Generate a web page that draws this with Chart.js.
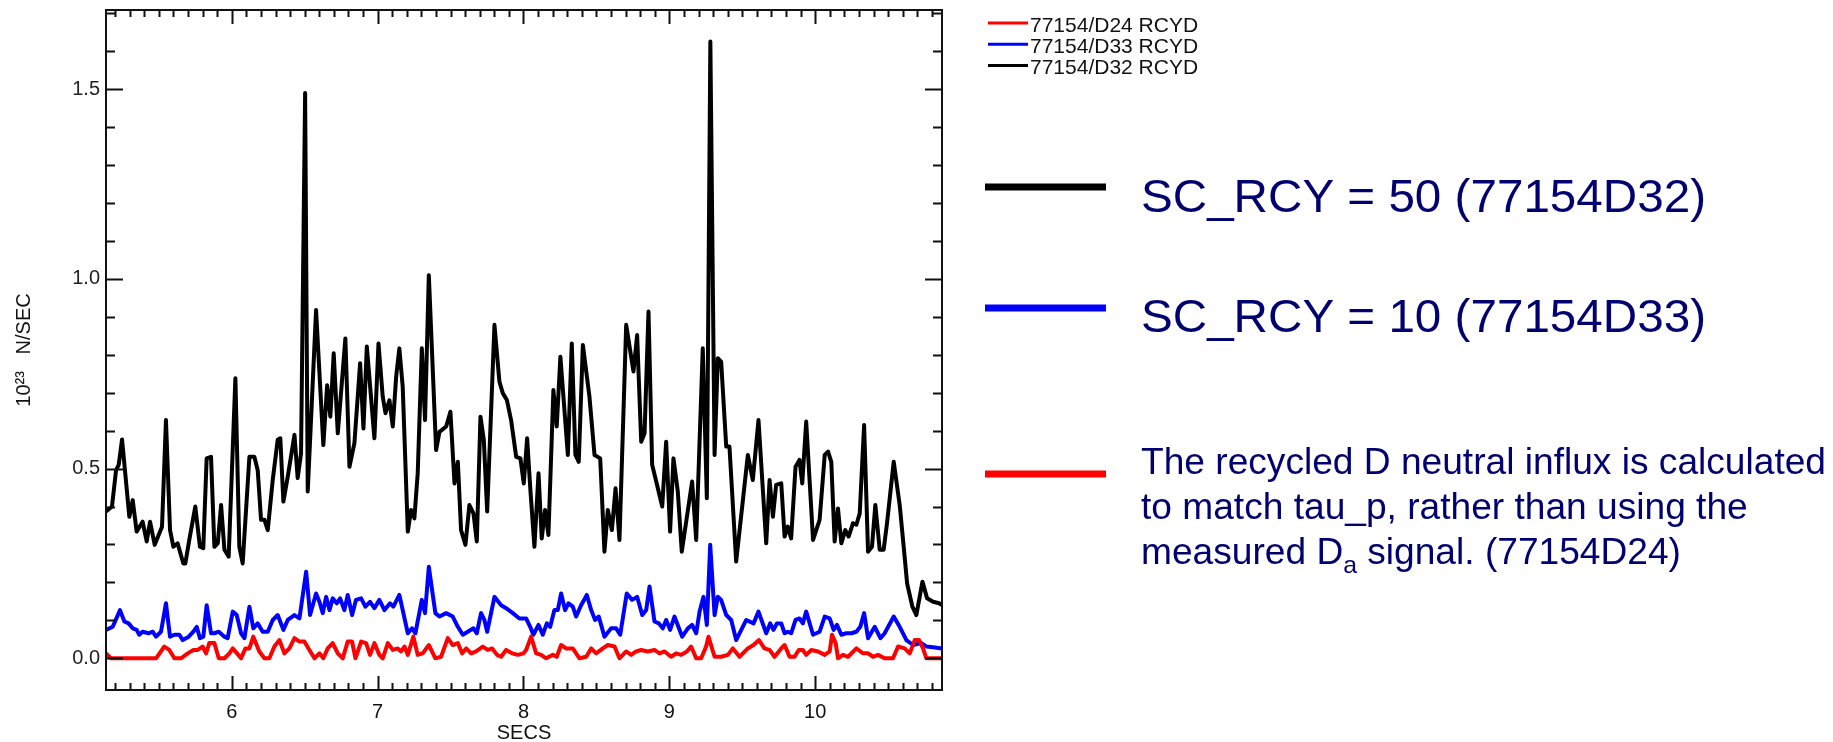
<!DOCTYPE html>
<html lang="en">
<head>
  <meta charset="UTF-8">
  <title>RCYD influx</title>
  <script src="https://cdn.jsdelivr.net/npm/chart.js"></script>
  <style>
    html, body { margin: 0; padding: 0; background: #fff; }
    #wrap { width: 1833px; height: 742px; }
  </style>
</head>
<body>
<div id="wrap"><canvas id="rcyChart" width="1833" height="742"></canvas></div>

<script>
  // time (s) and influx (10^23 N/SEC) at each vertex
  var d32Time = [5.138, 5.179, 5.207, 5.225, 5.248, 5.298, 5.321, 5.348, 5.389, 5.417, 5.44, 5.472, 5.522, 5.549, 5.577, 5.6, 5.629, 5.668, 5.682, 5.709,
    5.75, 5.782, 5.805, 5.828, 5.858, 5.881, 5.904, 5.927, 5.95, 5.979, 6.025, 6.052, 6.075, 6.121, 6.155, 6.178, 6.201, 6.224, 6.247, 6.281,
    6.315, 6.333, 6.354, 6.384, 6.43, 6.452, 6.475, 6.503, 6.521, 6.578, 6.628, 6.654, 6.676, 6.699, 6.727, 6.779, 6.807, 6.841, 6.88, 6.903,
    6.926, 6.978, 7.006, 7.035, 7.054, 7.081, 7.104, 7.127, 7.149, 7.172, 7.207, 7.229, 7.252, 7.275, 7.303, 7.325, 7.351, 7.401, 7.424, 7.47,
    7.499, 7.527, 7.55, 7.572, 7.602, 7.629, 7.657, 7.68, 7.705, 7.728, 7.751, 7.801, 7.835, 7.858, 7.886, 7.915, 7.95, 7.979, 8.002, 8.025,
    8.048, 8.075, 8.103, 8.125, 8.148, 8.171, 8.205, 8.228, 8.253, 8.304, 8.331, 8.356, 8.379, 8.407, 8.452, 8.487, 8.526, 8.555, 8.578, 8.606,
    8.631, 8.658, 8.704, 8.754, 8.779, 8.807, 8.83, 8.857, 8.882, 8.91, 8.951, 8.978, 9.005, 9.028, 9.058, 9.085, 9.156, 9.184, 9.229, 9.257,
    9.281, 9.31, 9.332, 9.355, 9.39, 9.412, 9.458, 9.538, 9.572, 9.611, 9.664, 9.687, 9.71, 9.732, 9.767, 9.79, 9.812, 9.835, 9.865, 9.892,
    9.911, 9.938, 9.985, 10.03, 10.065, 10.088, 10.11, 10.133, 10.156, 10.179, 10.206, 10.229, 10.259, 10.282, 10.305, 10.335, 10.362, 10.389, 10.412, 10.442,
    10.469, 10.492, 10.538, 10.579, 10.602, 10.63, 10.666, 10.693, 10.735, 10.767, 10.808, 10.849, 10.869];
  var d32Val = [0.387, 0.40, 0.496, 0.51, 0.577, 0.373, 0.417, 0.334, 0.36, 0.308, 0.36, 0.299, 0.347, 0.628, 0.338, 0.294, 0.303, 0.25, 0.25, 0.312,
    0.40, 0.294, 0.29, 0.527, 0.531, 0.294, 0.303, 0.404, 0.286, 0.268, 0.738, 0.294, 0.25, 0.531, 0.531, 0.496, 0.365, 0.365, 0.338, 0.47,
    0.576, 0.58, 0.413, 0.479, 0.589, 0.475, 0.54, 1.49, 0.44, 0.918, 0.562, 0.72, 0.637, 0.804, 0.593, 0.843, 0.505, 0.567, 0.778, 0.606,
    0.822, 0.58, 0.83, 0.69, 0.646, 0.68, 0.611, 0.742, 0.817, 0.716, 0.334, 0.391, 0.369, 0.488, 0.817, 0.628, 1.01, 0.549, 0.597, 0.611,
    0.65, 0.461, 0.518, 0.338, 0.299, 0.404, 0.382, 0.308, 0.637, 0.576, 0.387, 0.879, 0.729, 0.699, 0.681, 0.628, 0.531, 0.527, 0.461, 0.58,
    0.44, 0.294, 0.488, 0.316, 0.391, 0.325, 0.707, 0.611, 0.795, 0.536, 0.83, 0.536, 0.518, 0.826, 0.69, 0.536, 0.527, 0.281, 0.391, 0.338,
    0.448, 0.312, 0.879, 0.756, 0.852, 0.571, 0.593, 0.914, 0.51, 0.466, 0.40, 0.571, 0.334, 0.527, 0.439, 0.281, 0.466, 0.312, 0.817, 0.422,
    1.626, 0.536, 0.791, 0.782, 0.558, 0.558, 0.255, 0.536, 0.47, 0.628, 0.303, 0.47, 0.373, 0.457, 0.461, 0.321, 0.347, 0.316, 0.505, 0.523,
    0.461, 0.624, 0.312, 0.365, 0.536, 0.545, 0.518, 0.308, 0.395, 0.303, 0.338, 0.321, 0.356, 0.352, 0.382, 0.615, 0.281, 0.294, 0.404, 0.286,
    0.286, 0.356, 0.518, 0.404, 0.312, 0.197, 0.136, 0.114, 0.202, 0.158, 0.149, 0.145, 0.14];

  var d33Time = [5.138, 5.184, 5.234, 5.264, 5.293, 5.321, 5.348, 5.366, 5.389, 5.43, 5.458, 5.481, 5.515, 5.549, 5.577, 5.607, 5.641, 5.664, 5.705, 5.737,
    5.76, 5.782, 5.805, 5.828, 5.858, 5.881, 5.911, 5.95, 5.972, 6.007, 6.034, 6.064, 6.087, 6.121, 6.148, 6.178, 6.212, 6.247, 6.281, 6.315,
    6.354, 6.384, 6.43, 6.464, 6.51, 6.537, 6.578, 6.601, 6.624, 6.647, 6.67, 6.692, 6.72, 6.743, 6.772, 6.795, 6.825, 6.852, 6.887, 6.916,
    6.948, 6.978, 7.012, 7.047, 7.085, 7.108, 7.149, 7.207, 7.236, 7.259, 7.303, 7.325, 7.351, 7.396, 7.424, 7.47, 7.515, 7.55, 7.584, 7.618,
    7.657, 7.68, 7.709, 7.732, 7.751, 7.801, 7.847, 7.881, 7.927, 7.972, 8.018, 8.046, 8.068, 8.103, 8.132, 8.16, 8.183, 8.212, 8.235, 8.258,
    8.285, 8.308, 8.338, 8.361, 8.395, 8.434, 8.464, 8.491, 8.516, 8.555, 8.601, 8.635, 8.663, 8.708, 8.745, 8.779, 8.814, 8.841, 8.864, 8.898,
    8.928, 8.955, 8.978, 9.005, 9.035, 9.088, 9.127, 9.156, 9.184, 9.207, 9.234, 9.257, 9.28, 9.31, 9.332, 9.355, 9.39, 9.424, 9.458, 9.527,
    9.577, 9.611, 9.664, 9.691, 9.714, 9.737, 9.767, 9.79, 9.812, 9.835, 9.865, 9.892, 9.915, 9.938, 9.985, 10.03, 10.065, 10.099, 10.126, 10.149,
    10.179, 10.213, 10.248, 10.282, 10.309, 10.335, 10.362, 10.408, 10.447, 10.476, 10.538, 10.579, 10.625, 10.671, 10.728, 10.762, 10.808, 10.869];
  var d33Val = [0.075, 0.083, 0.127, 0.097, 0.092, 0.079, 0.075, 0.062, 0.07, 0.066, 0.07, 0.057, 0.07, 0.145, 0.057, 0.062, 0.062, 0.048, 0.057, 0.07,
    0.083, 0.053, 0.057, 0.14, 0.066, 0.066, 0.07, 0.057, 0.053, 0.123, 0.114, 0.066, 0.053, 0.136, 0.079, 0.092, 0.07, 0.07, 0.101, 0.114,
    0.075, 0.101, 0.114, 0.105, 0.228, 0.114, 0.171, 0.149, 0.119, 0.162, 0.127, 0.158, 0.145, 0.158, 0.127, 0.167, 0.114, 0.154, 0.158, 0.136,
    0.149, 0.132, 0.154, 0.127, 0.145, 0.136, 0.167, 0.066, 0.079, 0.066, 0.154, 0.119, 0.241, 0.119, 0.11, 0.119, 0.11, 0.083, 0.062, 0.07,
    0.079, 0.066, 0.119, 0.101, 0.07, 0.162, 0.14, 0.132, 0.119, 0.105, 0.105, 0.083, 0.062, 0.088, 0.062, 0.092, 0.083, 0.127, 0.127, 0.171,
    0.127, 0.145, 0.136, 0.11, 0.14, 0.167, 0.127, 0.101, 0.11, 0.057, 0.079, 0.079, 0.062, 0.171, 0.154, 0.162, 0.114, 0.127, 0.189, 0.097,
    0.092, 0.079, 0.101, 0.075, 0.11, 0.057, 0.079, 0.088, 0.066, 0.123, 0.162, 0.088, 0.299, 0.114, 0.162, 0.154, 0.114, 0.101, 0.048, 0.101,
    0.092, 0.123, 0.066, 0.092, 0.075, 0.092, 0.092, 0.066, 0.07, 0.066, 0.101, 0.105, 0.092, 0.123, 0.062, 0.07, 0.11, 0.105, 0.075, 0.088,
    0.062, 0.066, 0.066, 0.07, 0.083, 0.119, 0.053, 0.083, 0.053, 0.066, 0.11, 0.083, 0.048, 0.035, 0.04, 0.031, 0.029, 0.026];

  var d24Time = [5.138, 5.172, 5.481, 5.538, 5.572, 5.607, 5.652, 5.698, 5.737, 5.767, 5.8, 5.824, 5.846, 5.881, 5.911, 5.95, 5.984, 6.007, 6.036, 6.064,
    6.094, 6.121, 6.148, 6.189, 6.224, 6.258, 6.292, 6.327, 6.361, 6.395, 6.43, 6.464, 6.498, 6.532, 6.567, 6.601, 6.628, 6.658, 6.692, 6.727,
    6.761, 6.795, 6.825, 6.848, 6.887, 6.921, 6.948, 6.978, 7.012, 7.035, 7.07, 7.104, 7.138, 7.161, 7.184, 7.207, 7.245, 7.275, 7.309, 7.351,
    7.396, 7.435, 7.481, 7.515, 7.55, 7.579, 7.607, 7.641, 7.675, 7.721, 7.755, 7.785, 7.819, 7.847, 7.881, 7.922, 7.961, 8.0, 8.018, 8.052,
    8.087, 8.121, 8.155, 8.201, 8.228, 8.258, 8.292, 8.338, 8.384, 8.43, 8.464, 8.498, 8.544, 8.578, 8.624, 8.658, 8.704, 8.738, 8.772, 8.807,
    8.852, 8.898, 8.932, 8.967, 9.012, 9.047, 9.081, 9.12, 9.149, 9.184, 9.218, 9.252, 9.268, 9.31, 9.355, 9.401, 9.435, 9.481, 9.538, 9.577,
    9.614, 9.652, 9.687, 9.721, 9.767, 9.79, 9.824, 9.858, 9.888, 9.915, 9.938, 9.973, 10.019, 10.065, 10.099, 10.115, 10.14, 10.156, 10.19, 10.225,
    10.282, 10.328, 10.362, 10.396, 10.43, 10.476, 10.533, 10.568, 10.613, 10.648, 10.682, 10.712, 10.739, 10.762, 10.869];
  var d24Val = [0.013, 0, 0, 0.031, 0.022, 0, 0, 0.013, 0.022, 0.022, 0.031, 0.013, 0.04, 0.04, 0, 0, 0.013, 0.026, 0.013, 0,
    0.026, 0.026, 0.057, 0.018, 0, 0, 0.031, 0.048, 0.013, 0.026, 0.053, 0.044, 0.044, 0.022, 0, 0.013, 0, 0.026, 0.04, 0.013,
    0, 0.044, 0.044, 0, 0.044, 0.04, 0.009, 0.04, 0.009, 0, 0.04, 0.022, 0.026, 0.018, 0.031, 0.009, 0.057, 0.009, 0.013, 0.035,
    0, 0.004, 0.053, 0.035, 0.04, 0.013, 0.026, 0.013, 0.018, 0.031, 0.022, 0.026, 0.009, 0.004, 0.022, 0.013, 0.009, 0.013, 0.022, 0.057,
    0.013, 0.009, 0, 0.009, 0.004, 0.035, 0.026, 0.026, 0, 0.004, 0.026, 0.013, 0.026, 0.035, 0.031, 0, 0.018, 0.009, 0.018, 0.022,
    0.018, 0.022, 0.013, 0.018, 0.004, 0.013, 0.009, 0.018, 0.031, 0, 0, 0.031, 0.057, 0.004, 0.004, 0.009, 0.026, 0.004, 0.026, 0.035,
    0.048, 0.026, 0.022, 0.004, 0.026, 0.035, 0.004, 0.004, 0.022, 0.022, 0.009, 0.022, 0.018, 0.009, 0.018, 0.062, 0.04, 0, 0.009, 0.004,
    0.026, 0.013, 0.013, 0.004, 0.009, 0, 0, 0.031, 0.026, 0.013, 0.048, 0.048, 0.026, 0, 0];

  var seriesLabels = ['77154/D24 RCYD', '77154/D33 RCYD', '77154/D32 RCYD'];
  var seriesColors = ['#ff0000', '#0000ff', '#000000'];
  var xRange = [5.138, 10.869];
  var yRange = [-0.0836, 1.709];

  var noteLines = [
    ['SC_RCY = 50 (77154D32)'],
    ['SC_RCY = 10 (77154D33)'],
    ['The recycled D neutral influx is calculated', 'to match tau_p, rather than using the', 'measured D|a| signal. (77154D24)']
  ];

  var FONT = "'Liberation Sans', Arial, Helvetica, sans-serif";
  var NAVY = '#000070';

  function pts(t, v) {
    return t.map(function(x, i) { return {x: x, y: v[i]}; });
  }

  // IDL-like box with inward ticks on all four sides
  var framePlugin = {
    id: 'idlFrame',
    afterDatasetsDraw: function(chart) {
      var ctx = chart.ctx, a = chart.chartArea;
      var xs = chart.scales.x, ys = chart.scales.y;
      ctx.save();
      ctx.strokeStyle = '#111';
      ctx.lineWidth = 2;
      ctx.strokeRect(a.left, a.top, a.right - a.left, a.bottom - a.top);
      ctx.beginPath();
      for (var i = 52; i <= 108; i++) {
        var px = Math.round(xs.getPixelForValue(i / 10)) + 0.5;
        var len = (i % 10 === 0) ? 14 : 7;
        ctx.moveTo(px, a.bottom); ctx.lineTo(px, a.bottom - len);
        ctx.moveTo(px, a.top); ctx.lineTo(px, a.top + len);
      }
      for (var j = 0; j <= 17; j++) {
        var py = Math.round(ys.getPixelForValue(j / 10)) + 0.5;
        var l = (j % 5 === 0) ? 17 : 9;
        ctx.moveTo(a.left, py); ctx.lineTo(a.left + l, py);
        ctx.moveTo(a.right, py); ctx.lineTo(a.right - l, py);
      }
      ctx.stroke();
      ctx.restore();
    }
  };

  // text stretched a little so a line fits its width in the slide
  function fitText(ctx, text, x, y, sx) {
    ctx.save();
    ctx.translate(x, y);
    ctx.scale(sx, 1);
    ctx.fillText(text, 0, 0);
    ctx.restore();
  }

  var notePlugin = {
    id: 'notes',
    afterDraw: function(chart) {
      var ctx = chart.ctx;
      var ds = chart.data.datasets;
      ctx.save();

      // small legend top right of the plot
      ctx.font = '21px ' + FONT;
      ctx.textBaseline = 'alphabetic';
      ctx.textAlign = 'left';
      for (var k = 0; k < ds.length; k++) {
        var ly = 23 + k * 21.3;
        ctx.strokeStyle = ds[k].borderColor;
        ctx.lineWidth = 3;
        ctx.beginPath(); ctx.moveTo(988, ly); ctx.lineTo(1028, ly); ctx.stroke();
        ctx.fillStyle = '#111';
        ctx.fillText(ds[k].label, 1030, ly + 8.7);
      }

      // big key on the right
      var keyY = [187, 308, 474];
      var keyColor = [seriesColors[2], seriesColors[1], seriesColors[0]];
      for (var m = 0; m < 3; m++) {
        ctx.fillStyle = keyColor[m];
        ctx.fillRect(985, keyY[m] - 3.5, 121, 7);
      }

      ctx.fillStyle = NAVY;
      ctx.font = '47px ' + FONT;
      var sBig = 565 / ctx.measureText(noteLines[0][0]).width;
      fitText(ctx, noteLines[0][0], 1141, 211.5, sBig);
      fitText(ctx, noteLines[1][0], 1141, 331.5, sBig);

      ctx.font = '36px ' + FONT;
      var para = noteLines[2];
      var sPar = 685 / ctx.measureText(para[0]).width;
      var baseY = [473.5, 518.5, 563.5];
      for (var n = 0; n < para.length; n++) {
        var parts = para[n].split('|');
        var x = 1141;
        for (var p = 0; p < parts.length; p++) {
          var sub = (p % 2 === 1);
          ctx.font = (sub ? '24px ' : '36px ') + FONT;
          fitText(ctx, parts[p], x, baseY[n] + (sub ? 9 : 0), sPar);
          x += ctx.measureText(parts[p]).width * sPar;
        }
      }
      ctx.restore();
    }
  };

  var ctx = document.getElementById('rcyChart').getContext('2d');
  var series = [pts(d24Time, d24Val), pts(d33Time, d33Val), pts(d32Time, d32Val)];

  new Chart(ctx, {
    type: 'line',
    data: {
      datasets: series.map(function(s, i) {
        return {
          label: seriesLabels[i],
          data: s,
          borderColor: seriesColors[i],
          backgroundColor: seriesColors[i],
          borderWidth: 4,
          fill: false
        };
      })
    },
    options: {
      responsive: false,
      animation: false,
      devicePixelRatio: 1,
      layout: { padding: { left: 0, top: 10, right: 891, bottom: 0 } },
      elements: {
        point: { radius: 0 },
        line: { tension: 0, borderJoinStyle: 'round', borderCapStyle: 'round' }
      },
      plugins: {
        legend: { display: false },
        tooltip: { enabled: false }
      },
      scales: {
        x: {
          type: 'linear',
          min: xRange[0],
          max: xRange[1],
          afterFit: function(s) { s.height = 52; s.paddingLeft = 0; s.paddingRight = 0; },
          grid: { display: false, drawTicks: false },
          border: { display: false },
          ticks: {
            stepSize: 1,
            includeBounds: false,
            padding: 10,
            maxRotation: 0,
            autoSkip: false,
            color: '#111',
            font: { family: FONT, size: 20 }
          },
          title: {
            display: true,
            text: 'SECS',
            color: '#111',
            padding: { top: 0, bottom: -3 },
            font: { family: FONT, size: 20 }
          }
        },
        y: {
          type: 'linear',
          min: yRange[0],
          max: yRange[1],
          afterFit: function(s) { s.width = 106; s.paddingTop = 0; s.paddingBottom = 0; },
          grid: { display: false, drawTicks: false },
          border: { display: false },
          ticks: {
            stepSize: 0.5,
            includeBounds: false,
            padding: 6,
            color: '#222',
            font: { family: FONT, size: 20 },
            callback: function(v) { return Number(v).toFixed(1); }
          },
          title: {
            display: true,
            text: '10²³   N/SEC',
            color: '#111',
            padding: { top: 12, bottom: 0 },
            font: { family: FONT, size: 20 }
          }
        }
      }
    },
    plugins: [framePlugin, notePlugin]
  });
</script>
</body>
</html>
